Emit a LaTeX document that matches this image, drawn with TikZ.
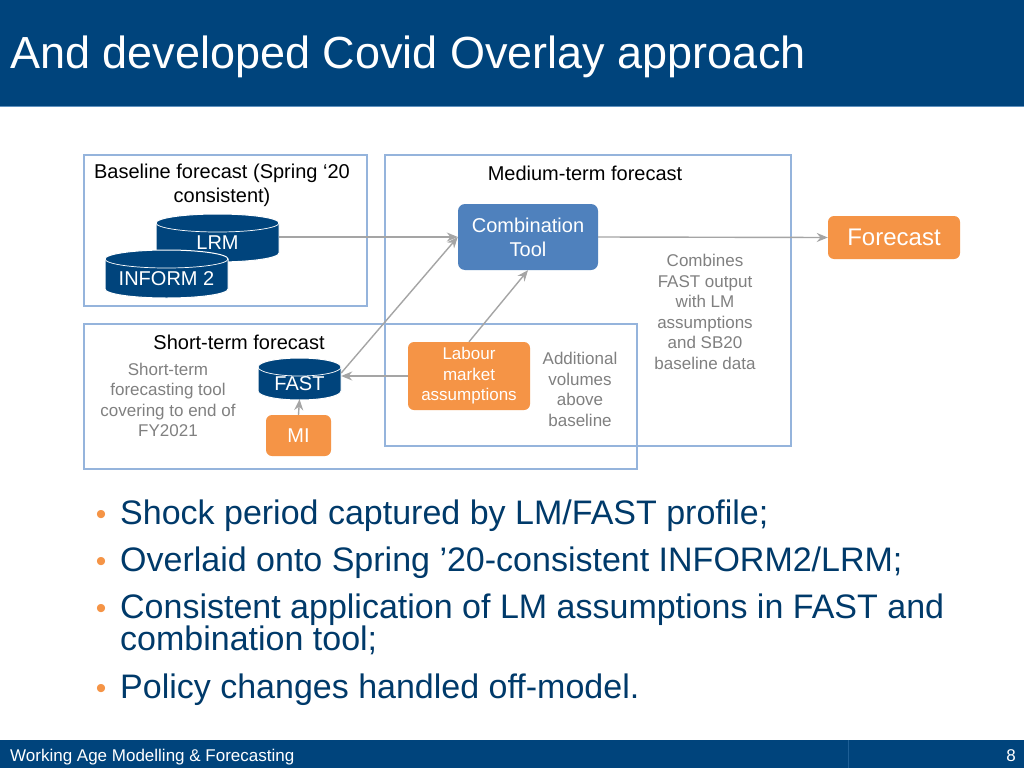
\documentclass[tikz,border=0pt]{standalone}
\usepackage{fontspec}
\setmainfont{Liberation Sans}
\usetikzlibrary{arrows.meta}

% database drum: name, x, y, width, height, label
\newcommand\dbcyl[6]{%
  \filldraw[dbblue, draw=white, line width=1pt] (#2-#4/2,#3-#5/2+9) -- (#2-#4/2,#3+#5/2-9)
    arc[start angle=180, end angle=0, x radius=#4/2, y radius=9] -- (#2+#4/2,#3-#5/2+9)
    arc[start angle=0, end angle=-180, x radius=#4/2, y radius=9] -- cycle;
  \draw[white, line width=0.7pt] (#2-#4/2,#3-#5/2+9)
    arc[start angle=180, end angle=0, x radius=#4/2, y radius=9];
  \node[dbtext, minimum width=#4, minimum height=#5-12] (#1) at (#2,#3+5) {#6};
}

\begin{document}
\begin{tikzpicture}[x=1pt, y=-1pt,
    panel/.style={draw=panelblue, line width=1.2pt},
    conn/.style={draw=linegray, line width=1.4pt, -{Stealth[length=11pt, width=9pt]}},
    dbtext/.style={inner sep=0, text=white, font=\fontsize{20}{24}\selectfont},
    bluebox/.style={fill=toolblue, rounded corners=7pt, text=white, inner sep=0, align=center},
    orangebox/.style={fill=myorange, rounded corners=6pt, text=white, inner sep=0, align=center},
    heading/.style={inner sep=0, text=black, align=center, font=\fontsize{20}{24}\selectfont},
    note/.style={inner sep=0, text=notegray, align=center, font=\fontsize{17}{20.5}\selectfont},
    bullet/.style={anchor=base west, inner sep=0, text=textblue, font=\fontsize{34}{40}\selectfont}]
    \definecolor{titleblue}{RGB}{0,68,124}
    \definecolor{dbblue}{RGB}{0,68,124}
    \definecolor{toolblue}{RGB}{79,129,189}
    \definecolor{myorange}{RGB}{245,148,70}
    \definecolor{panelblue}{RGB}{149,180,220}
    \definecolor{linegray}{RGB}{165,165,165}
    \definecolor{notegray}{RGB}{128,128,128}
    \definecolor{textblue}{RGB}{0,58,106}

    \useasboundingbox (0,0) rectangle (1024,768);
    \fill[white] (0,0) rectangle (1024,768);

    % title and footer bars
    \fill[titleblue] (0,0) rectangle (1024,106);
    \draw[color={rgb,255:red,95;green,145;blue,190}, line width=1pt] (0,106) -- (1024,106);
    \node[anchor=base west, inner sep=0, text=white, font=\fontsize{45}{54}\selectfont] (title) at (10,68) {And developed Covid Overlay approach};

    \fill[titleblue] (0,740) rectangle (1024,768);
    \draw[color={rgb,255:red,30;green,95;blue,150}, line width=1pt] (848,740) -- (848,768);
    \node[anchor=base west, inner sep=0, text=white, font=\fontsize{17}{20}\selectfont] (footer) at (10,761) {Working Age Modelling \& Forecasting};
    \node[anchor=base east, inner sep=0, text=white, font=\fontsize{17}{20}\selectfont] (pagenum) at (1016,761) {8};

    % panels
    \draw[panel] (84,155) rectangle (367,306);
    \draw[panel] (385,155) rectangle (791,446);
    \draw[panel] (84,324) rectangle (637,469);

    \node[heading] (baselinehead) at (222,185) {Baseline forecast (Spring ‘20\\consistent)};
    \node[heading] (mediumhead) at (585,173) {Medium-term forecast};
    \node[heading] (shorthead) at (239,342) {Short-term forecast};

    % databases
    \dbcyl{lrm}{217.5}{238}{123}{48}{LRM}
    \dbcyl{inform}{166.5}{274}{123}{48}{INFORM 2}
    \dbcyl{fast}{299.5}{379}{83}{42}{FAST}

    % tools and inputs
    \node[bluebox, minimum width=140, minimum height=66, font=\fontsize{20}{24}\selectfont] (combo) at (528,237) {Combination\\Tool};
    \node[orangebox, minimum width=132, minimum height=43, font=\fontsize{24}{28}\selectfont] (forecast) at (894,237.5) {Forecast};
    \node[orangebox, minimum width=122, minimum height=68, font=\fontsize{17}{20.5}\selectfont] (labour) at (469,376) {Labour\\market\\assumptions};
    \node[orangebox, minimum width=65, minimum height=41, font=\fontsize{20}{24}\selectfont] (mi) at (298.5,435.5) {MI};

    \node[note] (combnote) at (705,312) {Combines\\FAST output\\with LM\\assumptions\\and SB20\\baseline data};
    \node[note] (addnote) at (580,389.5) {Additional\\volumes\\above\\baseline};
    \node[note] (fastnote) at (168,400) {Short-term\\forecasting tool\\covering to end of\\FY2021};

    % connectors
    \draw[conn] (combo.west -| lrm.east) -- (combo.west);
    \draw[conn] (combo.east) -- (forecast.west);
    \draw[conn] ([yshift=11pt]fast.east) -- (combo.west);
    \draw[conn] (labour.north) -- (combo.south);
    \draw[conn] (labour.west) -- (labour.west -| fast.east);
    \draw[conn] (mi.north) -- (fast.south);

    % bullet list
    \foreach \y/\name in {524/b1, 571/b2, 618/b3, 698/b4}
        \node[anchor=base, text=myorange, inner sep=0, font=\fontsize{30}{36}\selectfont] (\name dot) at (101,\y) {•};
    \node[bullet] (b1) at (120,524) {Shock period captured by LM/FAST profile;};
    \node[bullet] (b2) at (120,571) {Overlaid onto Spring ’20-consistent INFORM2/LRM;};
    \node[bullet] (b3) at (120,618) {Consistent application of LM assumptions in FAST and};
    \node[bullet] (b3b) at (120,650) {combination tool;};
    \node[bullet] (b4) at (120,698) {Policy changes handled off-model.};
\end{tikzpicture}
\end{document}
